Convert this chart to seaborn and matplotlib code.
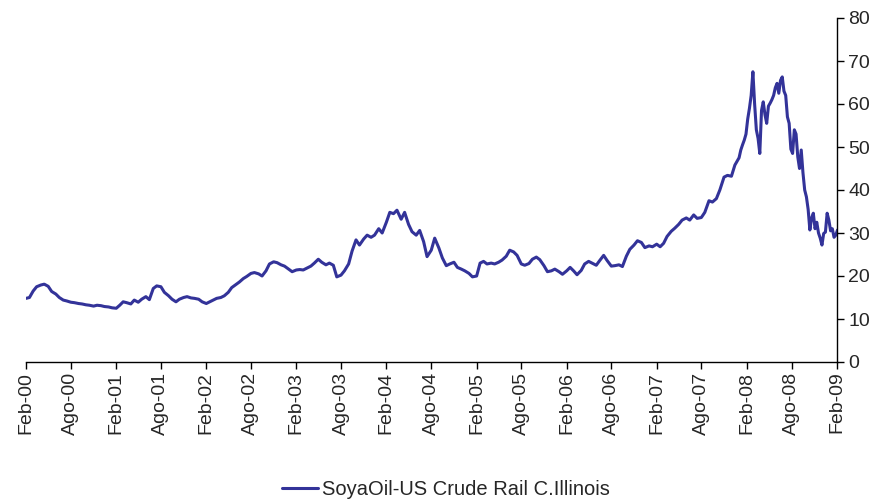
import matplotlib
matplotlib.use("Agg")
import matplotlib.pyplot as plt
import seaborn as sns
import pandas as pd

# ---- data ----
series_name = "SoyaOil-US Crude Rail C.Illinois"
# semi-monthly readings, Feb-2000 .. Dec-2007
values_semi = [
    14.8, 15.0, 16.5, 17.5, 17.9, 18.1, 17.6, 16.4, 15.8, 15.0, 14.4, 14.2,
    13.9, 13.8, 13.6, 13.5, 13.3, 13.2, 13.0, 13.2, 13.1, 12.9, 12.8, 12.6,
    12.5, 13.2, 14.0, 13.8, 13.5, 14.4, 13.9, 14.6, 15.2, 14.5, 17.1, 17.7,
    17.5, 16.2, 15.4, 14.6, 14.0, 14.6, 15.0, 15.2, 14.9, 14.8, 14.6, 14.0,
    13.6, 14.0, 14.4, 14.8, 15.0, 15.4, 16.2, 17.3, 18.0, 18.6, 19.4, 19.9,
    20.6, 20.8, 20.5, 20.0, 21.2, 22.8, 23.3, 23.1, 22.6, 22.3, 21.6, 21.0,
    21.4, 21.5, 21.4, 21.8, 22.3, 23.0, 23.9, 23.2, 22.6, 23.0, 22.5, 19.8,
    20.2, 21.2, 22.8, 25.8, 28.4, 27.2, 28.6, 29.5, 29.0, 29.5, 31.0, 30.0,
    32.5, 34.8, 34.5, 35.3, 33.2, 34.8, 32.0, 30.3, 29.5, 30.6, 28.0, 24.5,
    26.0, 28.8, 26.5, 24.2, 22.4, 22.8, 23.2, 22.0, 21.6, 21.2, 20.6, 19.8,
    20.0, 23.0, 23.4, 22.8, 23.0, 22.8, 23.2, 23.7, 24.6, 26.0, 25.6, 24.8,
    22.8, 22.5, 22.9, 23.9, 24.4, 23.8, 22.4, 21.0, 21.2, 21.6, 21.0, 20.4,
    21.2, 22.0, 21.2, 20.3, 21.3, 22.8, 23.4, 23.0, 22.5, 23.6, 24.8, 23.6,
    22.3, 22.4, 22.6, 22.2, 24.6, 26.2, 27.2, 28.2, 27.8, 26.6, 27.0, 26.8,
    27.4, 26.8, 27.6, 29.2, 30.4, 31.1, 32.0, 33.0, 33.5, 33.0, 34.2, 33.4,
    33.6, 34.8, 37.5, 37.2, 38.0, 40.0, 43.0, 43.4, 43.2, 45.8,
]
# weekly readings, Jan-2008 .. Feb-2009
values_weekly = [
    47.5, 49.3, 50.5, 51.6, 53.0, 56.5, 59.0, 62.0, 67.5, 60.0,
    54.0, 52.0, 48.5, 58.5, 60.5, 57.5, 55.5, 59.5, 60.2, 61.0,
    62.0, 63.8, 64.8, 62.5, 65.5, 66.3, 63.0, 62.0, 57.0, 55.5,
    49.5, 48.5, 54.0, 53.0, 47.7, 45.0, 49.3, 44.0, 40.0, 38.4,
    35.5, 30.7, 33.5, 34.6, 31.0, 32.5, 30.0, 28.8, 27.2, 29.9,
    30.2, 34.6, 33.0, 30.5, 31.0, 29.0, 29.5, 30.7,
]
tick_labels = ["Feb-00", "Ago-00", "Feb-01", "Ago-01", "Feb-02", "Ago-02",
               "Feb-03", "Ago-03", "Feb-04", "Ago-04", "Feb-05", "Ago-05",
               "Feb-06", "Ago-06", "Feb-07", "Ago-07", "Feb-08", "Ago-08",
               "Feb-09"]
y_ticks = [0, 10, 20, 30, 40, 50, 60, 70, 80]

dates = list(pd.date_range("2000-02-01", periods=len(values_semi), freq="SMS")) + \
        list(pd.date_range("2008-01-01", periods=len(values_weekly), freq="7D"))
df = pd.DataFrame({"date": dates, "value": values_semi + values_weekly,
                   "series": series_name})

# ---- style ----
sns.set_theme(style="white")
plt.rcParams["font.family"] = ["Liberation Sans", "DejaVu Sans"]

fig = plt.figure(figsize=(8.75, 5.03), dpi=100)
ax = fig.add_axes([26 / 875, 1 - 362 / 503, (837 - 26) / 875, (362 - 18) / 503])

line_color = "#333399"
sns.lineplot(data=df, x="date", y="value", ax=ax, color=line_color,
             linewidth=2.2, label=series_name, legend=False)

# x axis
tick_dates = pd.date_range("2000-02-01", periods=len(tick_labels), freq="6MS")
ax.set_xlim(pd.Timestamp("2000-02-01"), pd.Timestamp("2009-02-01"))
ax.set_xticks(tick_dates)
ax.set_xticklabels(tick_labels, rotation=90, fontsize=14)
ax.set_xlabel("")

# y axis on right
ax.set_ylim(0, 80)
ax.yaxis.tick_right()
ax.set_yticks(y_ticks)
ax.set_yticklabels([str(v) for v in y_ticks], fontsize=14)
ax.set_ylabel("")

for s in ["top", "left"]:
    ax.spines[s].set_visible(False)
for s in ["bottom", "right"]:
    ax.spines[s].set_color("black")
    ax.spines[s].set_linewidth(1.0)

ax.tick_params(axis="x", direction="out", length=5, width=1, color="black",
               pad=2, bottom=True)
ax.tick_params(axis="y", direction="out", length=5, width=1, color="black",
               pad=3, right=True, left=False)
ax.grid(False)

handles, labels = ax.get_legend_handles_labels()
fig.legend(handles, labels, loc="center", bbox_to_anchor=(0.51, 0.027),
           frameon=False, fontsize=14.5, handlelength=1.8, handletextpad=0.2)

fig.savefig("out.png", dpi=100)
